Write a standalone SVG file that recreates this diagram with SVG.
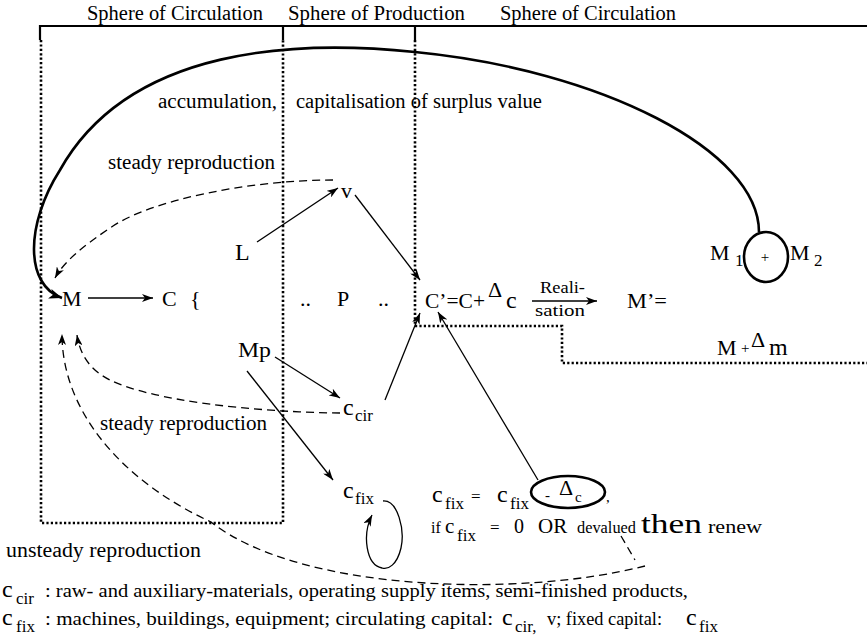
<svg xmlns="http://www.w3.org/2000/svg" width="867" height="640" viewBox="0 0 867 640" font-family="'Liberation Serif', serif">
<style>
text{font-family:'Liberation Serif','DejaVu Serif',serif;fill:#000}
.t19{font-size:20px}
.t22{font-size:22px}
.t24{font-size:24px}
.sub{font-size:17px}
.sm{font-size:15px}
.solid{fill:none;stroke:#000;stroke-width:1.3}
.dash{fill:none;stroke:#000;stroke-width:1.3;stroke-dasharray:8 5}
.dot{fill:none;stroke:#000;stroke-width:2.6;stroke-dasharray:2.2 2.2}
.bold{fill:none;stroke:#000;stroke-width:2.6}
</style>
<defs>
<marker id="ah" markerUnits="userSpaceOnUse" markerWidth="12" markerHeight="8" refX="11" refY="4" orient="auto">
<path d="M0,0 L11,4 L0,8 L3,4 z" fill="#000"/>
</marker>
<marker id="ahb" markerUnits="userSpaceOnUse" markerWidth="14" markerHeight="10" refX="13" refY="5" orient="auto">
<path d="M0,0 L13,5 L0,10 L3.5,5 z" fill="#000"/>
</marker>
</defs>

<g id="frame">
<path class="bold" d="M40 26 L867 26 M40 25 L40 40 M283 25 L283 40 M415 25 L415 40" style="stroke-width:2.2"/>
<path class="dot" d="M41 40 L41 523 L283 523 L283 40"/>
<path class="dot" d="M415 40 L415 326 L562 326 L562 363 L867 363"/>
</g>

<g id="headers">
<text class="t19" x="87" y="20" textLength="176" lengthAdjust="spacingAndGlyphs">Sphere of Circulation</text>
<text class="t19" x="288" y="20" textLength="177" lengthAdjust="spacingAndGlyphs">Sphere of Production</text>
<text class="t19" x="500" y="20" textLength="176" lengthAdjust="spacingAndGlyphs">Sphere of Circulation</text>
</g>

<g id="connectors">
<path class="bold" d="M759 232 C759 150 600 70 415 52 C300 40 130 45 60 170 C25 225 25 285 62 298" marker-end="url(#ahb)"/>
<path class="dash" d="M333 180 C250 180 150 200 110 228 C85 245 65 260 55 278" marker-end="url(#ah)"/>
<path class="dash" d="M340 413 C250 412 150 400 110 380 C90 370 80 355 77 335" marker-end="url(#ah)"/>
<path class="dash" d="M621 536 L635 560 M645 566 C520 598 300 592 211 522 C120 480 62 410 62 334" marker-end="url(#ah)"/>
<line class="solid" x1="88" y1="298" x2="153" y2="298" marker-end="url(#ah)"/>
<line class="solid" x1="257" y1="242" x2="338" y2="188" marker-end="url(#ah)"/>
<line class="solid" x1="355" y1="195" x2="420" y2="280" marker-end="url(#ah)"/>
<line class="solid" x1="275" y1="357" x2="340" y2="398" marker-end="url(#ah)"/>
<line class="solid" x1="247" y1="371" x2="333" y2="480" marker-end="url(#ah)"/>
<line class="solid" x1="385" y1="400" x2="420" y2="313" marker-end="url(#ah)"/>
<line class="solid" x1="538" y1="480" x2="438" y2="312" marker-end="url(#ah)"/>
<line class="solid" x1="532" y1="301" x2="597" y2="301" marker-end="url(#ah)"/>
<path class="solid" d="M383 501 C398 500 405 530 401 548 C397 565 388 570 382 568 C366 565 362 535 372 515" marker-end="url(#ah)"/>
</g>

<g id="labels">
<text class="t19" x="158" y="108" textLength="119" lengthAdjust="spacingAndGlyphs">accumulation,</text>
<text class="t19" x="296" y="108" textLength="246" lengthAdjust="spacingAndGlyphs">capitalisation of surplus value</text>
<text class="t19" x="108" y="169" textLength="167" lengthAdjust="spacingAndGlyphs">steady reproduction</text>
<text class="t19" x="100" y="430" textLength="167" lengthAdjust="spacingAndGlyphs">steady reproduction</text>
<text class="t19" x="6" y="557" textLength="195" lengthAdjust="spacingAndGlyphs">unsteady reproduction</text>
</g>

<g id="node-M"><text class="t22" x="62" y="306">M</text></g>
<g id="node-C"><text class="t22" x="162" y="306">C</text><text class="t22" x="190" y="306">{</text></g>
<g id="node-L"><text class="t24" x="235" y="260">L</text></g>
<g id="node-v"><text class="t22" x="341" y="198">v</text></g>
<g id="node-P">
<text class="t22" x="300" y="306">..</text>
<text class="t22" x="337" y="306">P</text>
<text class="t22" x="378" y="306">..</text>
</g>
<g id="node-Cprime">
<text class="t22" x="425" y="308" textLength="60" lengthAdjust="spacingAndGlyphs">C’=C+</text>
<text class="t22" x="488" y="297">Δ</text>
<text class="t24" x="506" y="308">c</text>
</g>
<g id="node-realisation">
<text x="540" y="293" textLength="45" lengthAdjust="spacingAndGlyphs" style="font-size:16px">Reali-</text>
<text x="535" y="316" textLength="50" lengthAdjust="spacingAndGlyphs" style="font-size:16px">sation</text>
</g>
<g id="node-Mprime">
<text class="t22" x="627" y="308" textLength="40" lengthAdjust="spacingAndGlyphs">M’=</text>
<text class="t22" x="717" y="355">M</text>
<text class="sm" x="741" y="353">+</text>
<text class="t22" x="751" y="347">Δ</text>
<text class="t24" x="769" y="355">m</text>
</g>
<g id="node-M1M2">
<ellipse cx="766" cy="257" rx="22" ry="25" class="bold"/>
<text class="t22" x="710" y="260">M</text>
<text class="sub" x="735" y="266">1</text>
<text class="sm" x="765" y="262" text-anchor="middle">+</text>
<text class="t22" x="790" y="260">M</text>
<text class="sub" x="814" y="266">2</text>
</g>
<g id="node-Mp"><text class="t22" x="238" y="357" textLength="33" lengthAdjust="spacingAndGlyphs">Mp</text></g>
<g id="node-ccir"><text class="t24" x="343" y="415">c</text><text class="sub" x="355" y="421">cir</text></g>
<g id="node-cfix"><text class="t24" x="343" y="498">c</text><text class="sub" x="355" y="504">fix</text></g>

<g id="node-cfix-eq">
<text class="t24" x="432" y="502">c</text><text class="sub" x="445" y="509">fix</text>
<text class="sub" x="471" y="502">=</text>
<text class="t24" x="497" y="502">c</text><text class="sub" x="510" y="509">fix</text>
<ellipse cx="568" cy="492" rx="37" ry="16" class="bold"/>
<text class="sm" x="545" y="500">-</text>
<text class="t22" x="559" y="495">Δ</text>
<text class="sm" x="575" y="502">c</text>
<text class="sm" x="606" y="502">,</text>
</g>
<g id="node-renew">
<text x="431" y="533" style="font-size:16px">if</text>
<text x="445" y="533" style="font-size:21px">c</text><text class="sub" x="457" y="541">fix</text>
<text class="sub" x="490" y="533">=</text>
<text x="514" y="533" style="font-size:20px">0</text>
<text x="538" y="533" style="font-size:21px">OR</text>
<text x="577" y="533" style="font-size:16px" textLength="59" lengthAdjust="spacingAndGlyphs">devalued</text>
<text x="641" y="533" style="font-size:28px" textLength="61" lengthAdjust="spacingAndGlyphs">then</text>
<text x="708" y="533" style="font-size:18px" textLength="54" lengthAdjust="spacingAndGlyphs">renew</text>
</g>

<g id="legend">
<text class="t24" x="2" y="597">c</text><text class="sub" x="16" y="604">cir</text>
<text style="font-size:18px" x="45" y="597" textLength="643" lengthAdjust="spacingAndGlyphs">: raw- and auxiliary-materials, operating supply items, semi-finished products,</text>
<text class="t24" x="2" y="625">c</text><text class="sub" x="16" y="632">fix</text>
<text style="font-size:18px" x="45" y="625" textLength="448" lengthAdjust="spacingAndGlyphs">: machines, buildings, equipment;  circulating capital:</text>
<text class="t24" x="502" y="625">c</text><text class="sub" x="515" y="632">cir,</text>
<text style="font-size:18px" x="547" y="625" textLength="115" lengthAdjust="spacingAndGlyphs">v; fixed capital:</text>
<text class="t24" x="686" y="625">c</text><text class="sub" x="699" y="632">fix</text>
</g>
</svg>
